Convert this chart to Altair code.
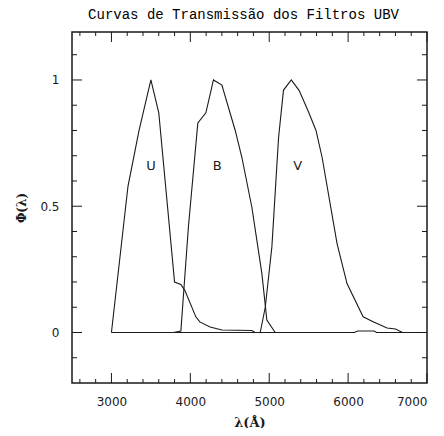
import altair as alt
import pandas as pd

# ---- data ----
U_WL = [3000, 3210, 3350, 3500, 3600, 3800, 3880, 3930, 4070, 4120, 4250, 4400, 4780, 4820]
U_VAL = [0.0, 0.58, 0.80, 1.0, 0.87, 0.20, 0.19, 0.167, 0.062, 0.042, 0.022, 0.010, 0.008, 0.0]

B_WL = [3786, 3880, 3976, 4095, 4197, 4293, 4400, 4569, 4653, 4780, 4907, 4970, 5076]
B_VAL = [0.0, 0.006, 0.42, 0.83, 0.87, 1.0, 0.98, 0.80, 0.694, 0.496, 0.233, 0.049, 0.0]

V_WL = [4886, 4950, 5034, 5118, 5181, 5280, 5380, 5500, 5593, 5670, 5860, 5986, 6190, 6324, 6494, 6600, 6690]
V_VAL = [0.0, 0.10, 0.34, 0.77, 0.96, 1.0, 0.958, 0.872, 0.80, 0.694, 0.352, 0.194, 0.062, 0.042, 0.018, 0.014, 0.0]

BASE_WL = [3000, 6080, 6120, 6330, 6360, 7000]
BASE_VAL = [0.0, 0.0, 0.006, 0.006, 0.0, 0.0]

LABELS = ["U", "B", "V"]
LABEL_WL = [3500, 4340, 5360]
LABEL_VAL = [0.66, 0.66, 0.66]

X_TICK_LABELS = [3000, 4000, 5000, 6000, 7000]
X_MAJOR = [3000, 4000, 5000, 6000, 7000]
X_MINOR = [2600, 2800, 3200, 3400, 3600, 3800, 4200, 4400, 4600, 4800,
           5200, 5400, 5600, 5800, 6200, 6400, 6600, 6800]
Y_TICK_LABELS = [0, 0.5, 1]
Y_MAJOR = [0, 0.5, 1]
Y_MINOR = [-0.1, 0.1, 0.2, 0.3, 0.4, 0.6, 0.7, 0.8, 0.9, 1.1]

TITLE = "Curvas de Transmissão dos Filtros UBV"

# ---- layout ----
W, H = 355, 351
MAJ, MIN_X, MIN_Y = 10, 4, 5
INK = "#1a1a1a"

rows = []
for name, wl, val in [("U", U_WL, U_VAL), ("B", B_WL, B_VAL), ("V", V_WL, V_VAL), ("base", BASE_WL, BASE_VAL)]:
    for w, v in zip(wl, val):
        rows.append({"filtro": name, "wl": w, "phi": v})
df = pd.DataFrame(rows)

lab_df = pd.DataFrame({"txt": LABELS, "wl": LABEL_WL, "phi": LABEL_VAL})

xs = alt.Scale(domain=[2500, 7000], nice=False, zero=False)
ys = alt.Scale(domain=[-0.2, 1.19], nice=False, zero=False)

x_axis = alt.Axis(values=X_TICK_LABELS, format="d", title="λ(Å)", ticks=False, domain=False, grid=False,
                  labelFont="DejaVu Sans", labelFontSize=12, labelColor=INK, labelPadding=13,
                  titleFont="DejaVu Serif", titleFontSize=13, titleFontWeight="bold", titleColor=INK,
                  titlePadding=9)
y_axis = alt.Axis(values=Y_TICK_LABELS, format="~g", title="Φ(λ)", ticks=False, domain=False, grid=False,
                  labelFont="DejaVu Sans", labelFontSize=12, labelColor=INK, labelPadding=13,
                  titleFont="DejaVu Serif", titleFontSize=12, titleFontWeight="bold", titleColor=INK,
                  titlePadding=11)

lines = alt.Chart(df).mark_line(color=INK, strokeWidth=1.1).encode(
    x=alt.X("wl:Q", scale=xs, axis=x_axis),
    y=alt.Y("phi:Q", scale=ys, axis=y_axis),
    detail="filtro:N",
)

texts = alt.Chart(lab_df).mark_text(font="DejaVu Sans", fontSize=13, color=INK).encode(
    x=alt.X("wl:Q", scale=xs),
    y=alt.Y("phi:Q", scale=ys),
    text="txt:N",
)

def xticks(vals, y0, y1):
    return alt.Chart(pd.DataFrame({"v": vals})).mark_rule(color=INK, strokeWidth=1).encode(
        x=alt.X("v:Q", scale=xs), y=alt.value(y0), y2=alt.value(y1))

def yticks(vals, x0, x1):
    return alt.Chart(pd.DataFrame({"v": vals})).mark_rule(color=INK, strokeWidth=1).encode(
        y=alt.Y("v:Q", scale=ys), x=alt.value(x0), x2=alt.value(x1))

ticks = [
    xticks(X_MAJOR, H, H - MAJ), xticks(X_MINOR, H, H - MIN_X),
    xticks(X_MAJOR, 0, MAJ), xticks(X_MINOR, 0, MIN_X),
    yticks(Y_MAJOR, 0, MAJ), yticks(Y_MINOR, 0, MIN_Y),
    yticks(Y_MAJOR, W, W - MAJ), yticks(Y_MINOR, W, W - MIN_Y),
]

chart = alt.layer(lines, texts, *ticks).properties(
    width=W, height=H,
    title=alt.Title(TITLE, font="Liberation Mono", fontSize=14, fontWeight="normal", color="#000",
                    anchor="middle", offset=10, dx=-6),
    autosize=alt.AutoSizeParams(type="none"),
    padding={"left": 64, "top": 24, "right": 9, "bottom": 45},
).configure(
    background="white",
    view=alt.ViewConfig(stroke=INK, strokeWidth=1.5),
)

chart.save("out.html", embed_options={"renderer": "svg", "actions": False})
